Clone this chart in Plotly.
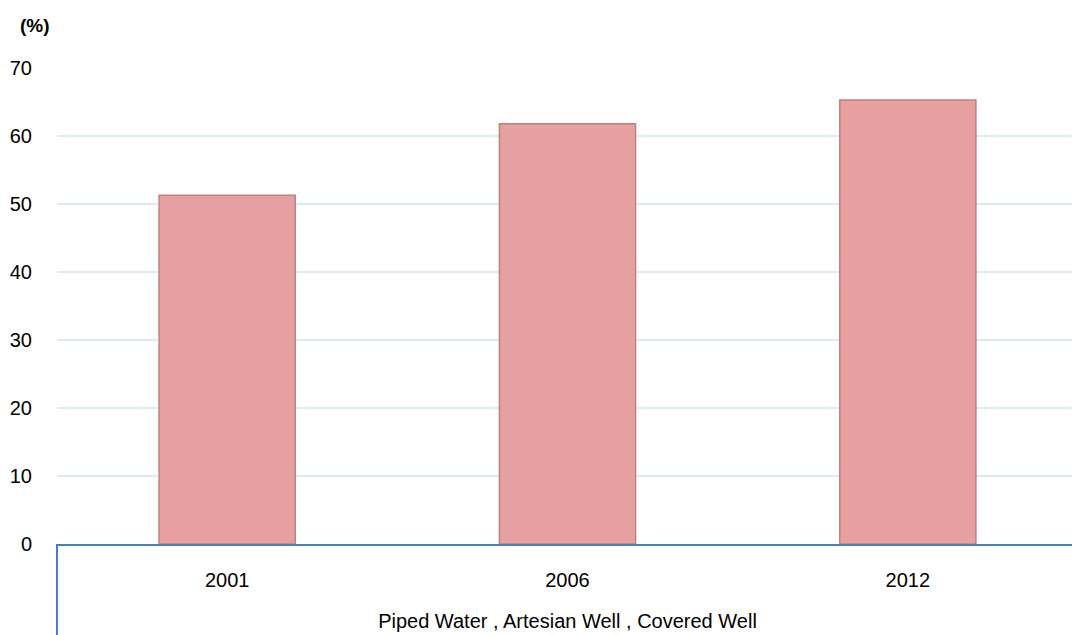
import plotly.graph_objects as go

years = ["2001", "2006", "2012"]
values = [51.3, 61.8, 65.3]
y_ticks = [0, 10, 20, 30, 40, 50, 60, 70]
x_title = "Piped Water , Artesian Well , Covered Well"
y_unit = "(%)"

fig = go.Figure()
fig.add_trace(go.Bar(
    x=years, y=values, width=0.4,
    marker=dict(color="#e6a0a0", line=dict(color="#bf8080", width=1.5)),
))

axis_blue = "#4a7ebb"
FONT = "Liberation Sans, Arial, sans-serif"
fig.update_layout(
    width=1072, height=627,
    margin=dict(l=47, r=2, t=60, b=91),
    paper_bgcolor="white", plot_bgcolor="white",
    showlegend=False,
    font=dict(family=FONT, size=20, color="#000"),
    xaxis=dict(
        showgrid=False, showline=True, linecolor=axis_blue, linewidth=2,
        ticks="", tickfont=dict(size=20), ticklabelstandoff=17,
        title=dict(text=x_title, font=dict(size=20), standoff=24),
    ),
    yaxis=dict(
        range=[0, 70], tickvals=y_ticks, showgrid=True, gridcolor="#dcecf2",
        gridwidth=1.5, zeroline=False, showline=False, ticks="",
        ticklabelstandoff=24, tickfont=dict(size=20),
    ),
    annotations=[dict(
        text="<b>" + y_unit + "</b>", xref="paper", yref="paper",
        x=0, xshift=-39, y=1.0, yshift=43, xanchor="left", yanchor="middle",
        showarrow=False, font=dict(size=19),
    )],
    shapes=[dict(
        type="line", xref="paper", yref="paper", x0=0, x1=0, y0=0, y1=-0.2,
        line=dict(color=axis_blue, width=2),
    )],
)

fig.write_html("out.html")
